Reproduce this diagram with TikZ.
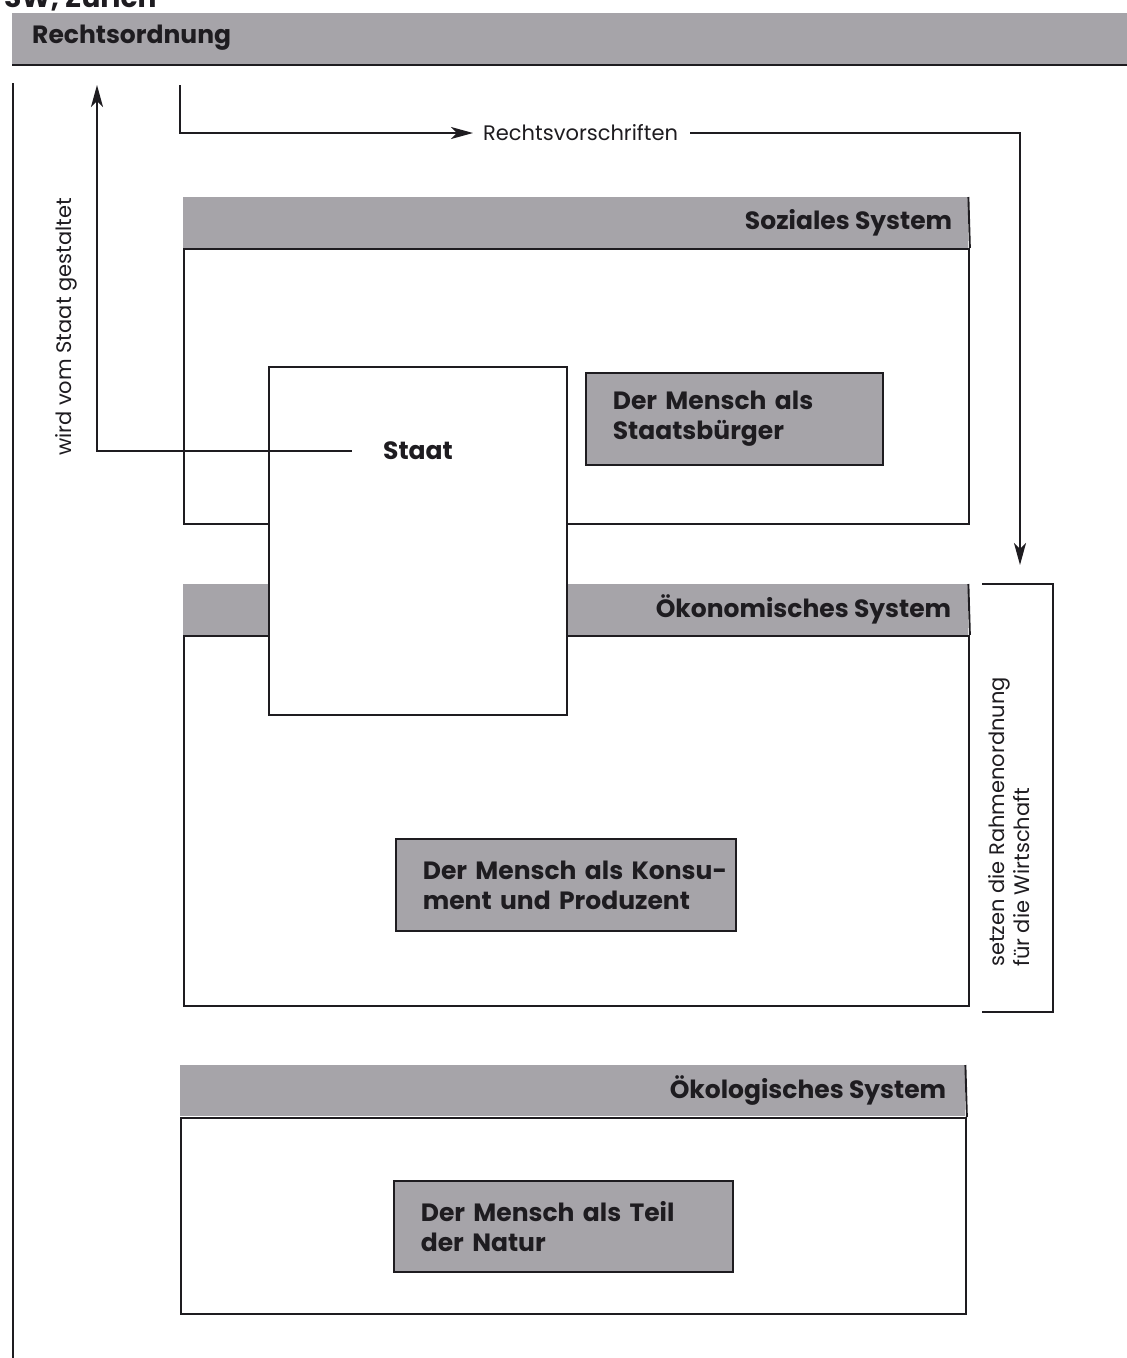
\documentclass[tikz,border=0pt]{standalone}
\usepackage{fontspec}
\setmainfont{Poppins}
\usetikzlibrary{arrows.meta}
\definecolor{barc}{RGB}{166,164,169}
\definecolor{inkc}{RGB}{30,28,32}
\begin{document}
\begin{tikzpicture}[x=1pt,y=-1pt,
  ink/.style={draw=inkc, line width=1.9pt},
  boldtxt/.style={font=\bfseries\fontsize{25}{30}\selectfont, text=inkc, inner sep=0pt},
  regtxt/.style={font=\fontsize{21}{25}\selectfont, text=inkc, inner sep=0pt},
  hdr/.style={fill=barc, draw=none, anchor=north west, inner sep=0pt, minimum width=785pt, minimum height=51pt},
  sysbox/.style={draw=inkc, line width=1.9pt, fill=white, anchor=north west, inner sep=0pt, minimum width=785pt},
  mbox/.style={draw=inkc, line width=1.7pt, fill=barc, anchor=north west, inner xsep=27pt, inner ysep=0pt,
    align=left, font=\bfseries\fontsize{25}{30}\selectfont, text=inkc},
  arr/.style={draw=inkc, line width=1.9pt, -{Stealth[length=22pt,width=12pt,inset=6pt]}},
]
\useasboundingbox (0,0) rectangle (1127,1358);
\clip (0,0) rectangle (1127,1358);
\fill[white] (0,0) rectangle (1127,1358);

% cut-off caption at the top
\node[boldtxt, font=\bfseries\fontsize{28}{30}\selectfont, anchor=base west] (cap) at (4,7) {SW, Zürich};

% Rechtsordnung bar
\node[fill=barc, anchor=north west, inner sep=0pt, minimum width=1115pt, minimum height=52pt] (ro) at (12,13) {};
\draw[ink] (ro.south west) -- (ro.south east);
\node[boldtxt, anchor=west] (rotxt) at (32,38) {Rechtsordnung};

% left frame line
\coordinate (lfTop) at (13,83);
\coordinate (lfBot) at (13,1358);
\draw[ink] (lfTop) -- (lfBot);

% Soziales System
\node[hdr] (sozH) at (183,197) {};
\node[sysbox, minimum height=275pt] (sozB) at (183,248) {};
\draw[ink] (sozH.north east) -- (sozB.north east);
\node[boldtxt, anchor=east] (sozT) at ([xshift=-16pt]sozH.east) {Soziales System};

% Ökonomisches System
\node[hdr] (oekH) at (183,584) {};
\node[sysbox, minimum height=370pt] (oekB) at (183,635) {};
\draw[ink] (oekH.north east) -- (oekB.north east);
\node[boldtxt, anchor=east] (oekT) at ([xshift=-17pt]oekH.east) {Ökonomisches System};

% Staat
\node[draw=inkc, line width=1.9pt, fill=white, anchor=north west, inner sep=0pt,
  minimum width=298pt, minimum height=348pt] (staat) at (268,366) {};
\node[boldtxt] (stlab) at (418,451) {Staat};

% Ökologisches System
\node[hdr] (oklH) at (180,1065) {};
\node[sysbox, minimum height=196pt] (oklB) at (180,1117) {};
\draw[ink] (oklH.north east) -- (oklB.north east);
\node[boldtxt, anchor=east] (oklT) at ([xshift=-19pt]oklH.east) {Ökologisches System};

% Mensch boxes
\node[mbox, text width=243pt, minimum height=92pt] (m1) at (585,372) {\mbox{Der Mensch als}\\\mbox{Staatsbürger}};
\node[mbox, text width=286pt, minimum height=92pt] (m2) at (395,838) {\mbox{Der Mensch als Konsu-}\\\mbox{ment und Produzent}};
\node[mbox, text width=285pt, minimum height=91pt] (m3) at (393,1180) {\mbox{Der Mensch als Teil}\\\mbox{der Natur}};

% wird vom Staat gestaltet
\coordinate (upTip) at (97,85);
\draw[arr] ([xshift=-31pt]stlab.west) -| (upTip);
\node[regtxt, rotate=90, anchor=north west] (wl) at (55,456) {wird vom Staat gestaltet};

% Rechtsvorschriften
\coordinate (rvStart) at (180,85);
\node[regtxt, anchor=west] (rv) at (483,133) {Rechtsvorschriften};
\draw[arr] (rvStart) |- ([xshift=-10pt]rv.west);
\coordinate (dnTip) at (1020,565);
\draw[arr] ([xshift=12pt]rv.east) -| (dnTip);

% bracket: setzen die Rahmenordnung
\draw[ink] (982,584) -- (1053,584) -- (1053,1012) -- (982,1012);
\node[regtxt, rotate=90, anchor=north west, align=left] (rl) at (988,967) {setzen die Rahmenordnung\\für die Wirtschaft};
\end{tikzpicture}
\end{document}
